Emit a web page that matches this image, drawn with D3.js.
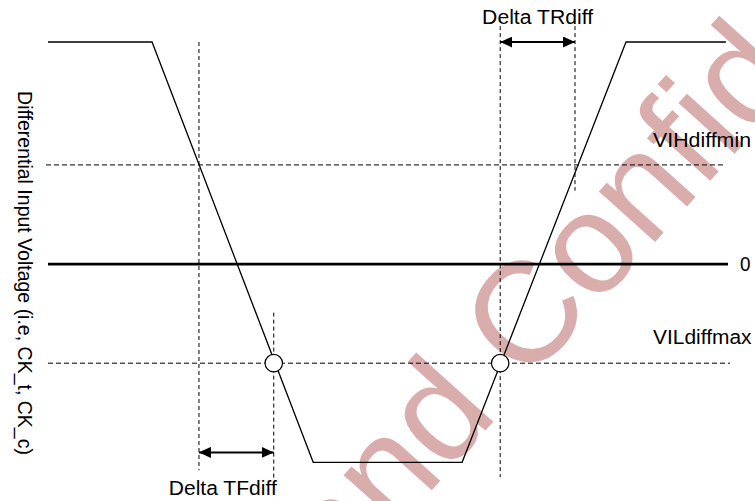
<!DOCTYPE html>
<html lang="en">
<head>
<meta charset="UTF-8">
<title>Differential Input Timing</title>
<style>
  body { margin: 0; background: #fff; }
  svg text { font-family: "Liberation Sans", Arial, sans-serif; fill: #000; }
</style>
</head>
<body>
<div id="chart"></div>
<script src="https://d3js.org/d3.v7.min.js"></script>
<script>
// waveform corners: time (arbitrary units) and differential voltage (VIH = 1)
const waveTime = [0, 1.53, 3.90, 6.09, 8.50, 9.97];
const waveVolt = [2.24, 2.24, -2.0, -2.0, 2.24, 2.24];

// reference levels
const levelNames = ["VIHdiffmin", "0", "VILdiffmax"];
const levelVolt = [1, 0, -1];
const levelStart = [-0.03, 0, 0];
const levelEnd = [9.97, 10, 10.03];

// vertical guide lines at the crossings
const guideTime = [2.22, 3.32, 6.65, 7.75];
const guideTop = [2.24, -0.49, 2.40, 2.40];
const guideBottom = [-2.08, -2.16, -2.15, 0.74];

// open circles where the edges cross VILdiffmax
const dotTime = [3.32, 6.65];

// the two delta intervals
const deltaNames = ["Delta TFdiff", "Delta TRdiff"];
const deltaFrom = [2.22, 6.65];
const deltaTo = [3.32, 7.75];
const deltaVolt = [-1.9, 2.24];

const W = 755, H = 501;
const svg = d3.select("#chart").append("svg").attr("width", W).attr("height", H);

const x = d3.scaleLinear().domain([0, 10]).range([48, 728]);
const y = d3.scaleLinear().domain([-2, 2.24]).range([462.3, 42]);

// watermark (behind everything)
svg.append("text")
    .attr("transform", "translate(340,592) rotate(-48)")
    .style("font-size", "143px")
    .style("fill", "#daadad")
    .text("and Confidential");

const defs = svg.append("defs");
defs.append("marker")
    .attr("id", "head")
    .attr("markerUnits", "userSpaceOnUse")
    .attr("viewBox", "0 0 12 11")
    .attr("refX", 12).attr("refY", 5.5)
    .attr("markerWidth", 12).attr("markerHeight", 11)
    .attr("orient", "auto-start-reverse")
  .append("path")
    .attr("d", "M0,0L12,5.5L0,11Z")
    .attr("fill", "#000");

// dashed level lines (VIH, VIL)
levelVolt.forEach(function(v, i) {
    if (v === 0) return;
    svg.append("line")
        .attr("x1", x(levelStart[i])).attr("x2", x(levelEnd[i]))
        .attr("y1", y(v)).attr("y2", y(v))
        .attr("stroke", "#000").attr("stroke-width", 1)
        .attr("stroke-dasharray", "5,3");
});

// vertical dashed guides
guideTime.forEach(function(t, i) {
    svg.append("line")
        .attr("x1", x(t)).attr("x2", x(t))
        .attr("y1", y(guideTop[i])).attr("y2", y(guideBottom[i]))
        .attr("stroke", "#000").attr("stroke-width", 1)
        .attr("stroke-dasharray", "4,3");
});

// zero line
svg.append("line")
    .attr("x1", x(levelStart[1])).attr("x2", x(levelEnd[1]))
    .attr("y1", y(0)).attr("y2", y(0))
    .attr("stroke", "#000").attr("stroke-width", 2.7);

// waveform
const line = d3.line()
    .x(function(d, i) { return x(waveTime[i]); })
    .y(function(d) { return y(d); });
svg.append("path")
    .datum(waveVolt)
    .attr("d", line)
    .attr("fill", "none")
    .attr("stroke", "#000")
    .attr("stroke-width", 1.3);

// circles
svg.selectAll(".dot")
    .data(dotTime)
    .enter().append("circle")
    .attr("class", "dot")
    .attr("cx", function(d) { return x(d); })
    .attr("cy", y(-1))
    .attr("r", 8.7)
    .attr("fill", "#fff")
    .attr("stroke", "#000")
    .attr("stroke-width", 1.2);

// delta arrows
deltaNames.forEach(function(name, i) {
    svg.append("line")
        .attr("x1", x(deltaFrom[i])).attr("x2", x(deltaTo[i]))
        .attr("y1", y(deltaVolt[i])).attr("y2", y(deltaVolt[i]))
        .attr("stroke", "#000").attr("stroke-width", 2)
        .attr("marker-start", "url(#head)")
        .attr("marker-end", "url(#head)");
});

// delta labels
svg.append("text")
    .attr("x", x(deltaTo[0]) + 3).attr("y", 495)
    .attr("text-anchor", "end")
    .attr("textLength", 108).attr("lengthAdjust", "spacingAndGlyphs")
    .style("font-size", "19.5px")
    .text(deltaNames[0]);
svg.append("text")
    .attr("x", (x(deltaFrom[1]) + x(deltaTo[1])) / 2).attr("y", 24)
    .attr("text-anchor", "middle")
    .attr("textLength", 111).attr("lengthAdjust", "spacingAndGlyphs")
    .style("font-size", "19.5px")
    .text(deltaNames[1]);

// level labels
svg.append("text")
    .attr("x", 653).attr("y", y(levelVolt[0]) - 18.3)
    .attr("textLength", 98).attr("lengthAdjust", "spacingAndGlyphs")
    .style("font-size", "19.5px")
    .text(levelNames[0]);
svg.append("text")
    .attr("x", 740).attr("y", y(levelVolt[1]) + 6.7)
    .attr("textLength", 10.5).attr("lengthAdjust", "spacingAndGlyphs")
    .style("font-size", "19.5px")
    .text(levelNames[1]);
svg.append("text")
    .attr("x", 653).attr("y", y(levelVolt[2]) - 19.5)
    .attr("textLength", 98.5).attr("lengthAdjust", "spacingAndGlyphs")
    .style("font-size", "19.5px")
    .text(levelNames[2]);

// y axis title
svg.append("text")
    .attr("transform", "translate(17.5,273) rotate(90)")
    .attr("text-anchor", "middle")
    .style("font-size", "19.5px")
    .text("Differential Input Voltage (i.e, CK_t, CK_c)");
</script>
</body>
</html>
